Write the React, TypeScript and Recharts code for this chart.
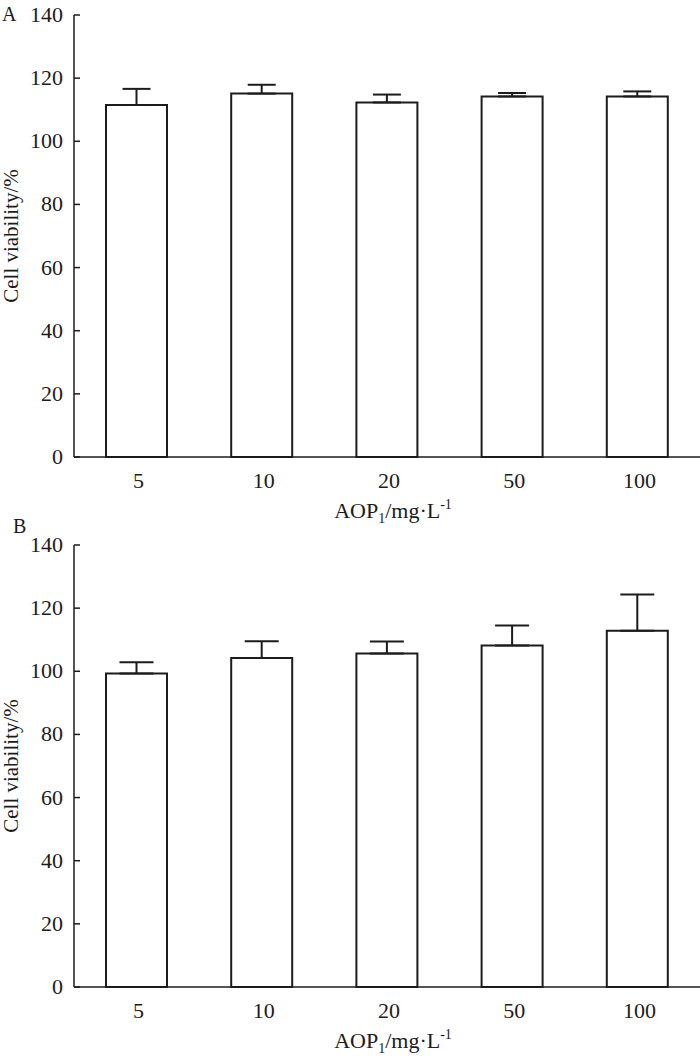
import React from "react";
import { BarChart, Bar, XAxis, YAxis, ErrorBar } from "recharts";

// AOP1 concentration (mg/L)
const concentrations = ["5", "10", "20", "50", "100"];
const viabilityA = [111.5, 115.1, 112.3, 114.2, 114.2];
const errorA = [5.1, 2.8, 2.5, 1.1, 1.6];
const viabilityB = [99.3, 104.2, 105.6, 108.2, 112.8];
const errorB = [3.6, 5.3, 3.8, 6.3, 11.5];
const yTicks = [0, 20, 40, 60, 80, 100, 120, 140];

const INK = "#1c1c1c";
const FONT = "'Liberation Serif', 'DejaVu Serif', serif";

const buildRows = (values: number[], errs: number[]) =>
  concentrations.map((c, i) => ({ conc: c, value: values[i], err: [0, errs[i]] }));

const YTick = ({ x, y, payload }: any) => (
  <g>
    <line x1={x} x2={x + 6} y1={y} y2={y} stroke={INK} strokeWidth={1.5} />
    <text x={x - 11} y={y + 7} textAnchor="end" fontSize={22} fill={INK} fontFamily={FONT}>
      {payload.value}
    </text>
  </g>
);

const XTick = ({ x, y, payload }: any) => (
  <text x={x + 2} y={y + 31} textAnchor="middle" fontSize={22} fill={INK} fontFamily={FONT}>
    {payload.value}
  </text>
);

const XLabel = ({ viewBox }: any) => {
  const cx = viewBox.x + viewBox.width / 2 + 6;
  const by = viewBox.y + 61;
  return (
    <text x={cx} y={by} textAnchor="middle" fontSize={22} fill={INK} fontFamily={FONT}>
      AOP
      <tspan fontSize={14} dy={5}>1</tspan>
      <tspan dy={-5}>/mg·L</tspan>
      <tspan fontSize={14} dy={-9}>-1</tspan>
    </text>
  );
};

const YLabel = ({ cy }: any) => (
  <text
    x={18}
    y={cy}
    transform={`rotate(-90, 18, ${cy})`}
    textAnchor="middle"
    fontSize={21}
    fill={INK}
    fontFamily={FONT}
  >
    Cell viability/%
  </text>
);

function Panel({
  values,
  errs,
  letter,
  letterX,
  letterY,
  height,
  top,
  capWidth,
}: {
  values: number[];
  errs: number[];
  letter: string;
  letterX: number;
  letterY: number;
  height: number;
  top: number;
  capWidth: number;
}) {
  const rows = buildRows(values, errs);
  return (
    <div style={{ position: "relative", width: 700, height }}>
      <span
        style={{
          position: "absolute",
          left: letterX,
          top: letterY,
          fontFamily: FONT,
          fontSize: 20,
          color: INK,
          lineHeight: 1,
        }}
      >
        {letter}
      </span>
      <BarChart
        width={700}
        height={height}
        data={rows}
        margin={{ top, right: 0, left: 0, bottom: height - top - 442 - 30 }}
      >
        <XAxis
          dataKey="conc"
          tick={<XTick />}
          tickLine={false}
          tickSize={0}
          tickMargin={0}
          axisLine={{ stroke: INK, strokeWidth: 1.5 }}
          height={30}
          label={{ content: <XLabel /> }}
        />
        <YAxis
          domain={[0, 140]}
          ticks={yTicks}
          width={74}
          tick={<YTick />}
          tickLine={false}
          tickSize={0}
          tickMargin={0}
          axisLine={{ stroke: INK, strokeWidth: 1.5 }}
          label={{ content: () => <YLabel cy={top + 221} /> }}
        />
        <Bar dataKey="value" fill="#ffffff" stroke={INK} strokeWidth={2} barSize={61} isAnimationActive={false}>
          <ErrorBar dataKey="err" direction="y" width={capWidth} stroke={INK} strokeWidth={2} />
        </Bar>
      </BarChart>
    </div>
  );
}

export default function App() {
  return (
    <div style={{ position: "absolute", left: 0, top: 0, width: 700, height: 1057, background: "#fff" }}>
      <div style={{ position: "absolute", left: 0, top: 0 }}>
        <Panel values={viabilityA} errs={errorA} letter="A" letterX={2} letterY={4} height={529} top={15} capWidth={14} />
      </div>
      <div style={{ position: "absolute", left: 0, top: 505 }}>
        <Panel values={viabilityB} errs={errorB} letter="B" letterX={13} letterY={11} height={552} top={40} capWidth={17} />
      </div>
    </div>
  );
}
